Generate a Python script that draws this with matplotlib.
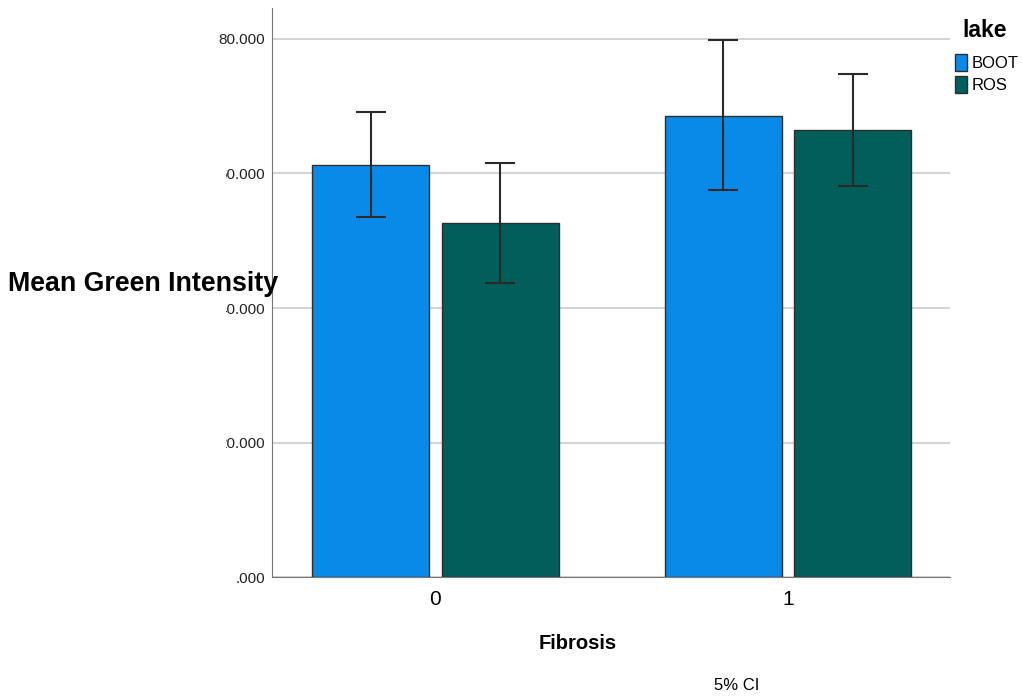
import numpy as np
import matplotlib.pyplot as plt
from matplotlib.patches import Rectangle, Patch

# средние и 95% ДИ по группам fibrosis
fibrosis = ['0', '1']
lakes = ['BOOT', 'ROS']
boot_mean = [61.3, 68.6]
boot_lo = [53.6, 57.6]
boot_hi = [69.2, 79.9]
ros_mean = [52.6, 66.5]
ros_lo = [43.7, 58.2]
ros_hi = [61.6, 74.8]
yticks = [0, 20, 40, 60, 80]
ytick_labels = ['.000', '20.000', '40.000', '60.000', '80.000']

colors = ['#0A8AE8', '#025E5B']
fam = ['Liberation Sans', 'DejaVu Sans']

fig = plt.figure(figsize=(10.22, 6.97), dpi=100)
ax = fig.add_axes([0.266, 0.172, 0.6636, 0.8165])

x = np.arange(len(fibrosis))
w = 0.332
off = 0.184
means = [boot_mean, ros_mean]
los = [boot_lo, ros_lo]
his = [boot_hi, ros_hi]
for i in range(2):
    m = np.array(means[i])
    err = [m - np.array(los[i]), np.array(his[i]) - m]
    ax.bar(x + (i * 2 - 1) * off, m, width=w, color=colors[i],
           edgecolor='#2e2e2e', linewidth=1, zorder=2)
    ax.errorbar(x + (i * 2 - 1) * off, m, yerr=err, fmt='none',
                ecolor='#2a2a2a', elinewidth=1.5, capsize=11, capthick=1.5, zorder=3)

ax.set_xlim(-0.464, 1.46)
ax.set_ylim(0, 84.6)
ax.set_yticks(yticks)
ax.set_yticklabels(ytick_labels, family=fam, fontsize=11, color='#222222')
ax.set_xticks(x)
ax.set_xticklabels(fibrosis, family=fam, fontsize=15)
ax.tick_params(axis='y', length=0, pad=5)
ax.tick_params(axis='x', length=0, pad=9)
ax.yaxis.grid(True, color='#d0d0d0', linewidth=1.3, zorder=0)
ax.set_axisbelow(True)
for s in ['top', 'right']:
    ax.spines[s].set_visible(False)
ax.spines['left'].set_color('#777777')
ax.spines['bottom'].set_color('#777777')

# белая плашка под подписью оси
fig.patches.append(Rectangle((0, 0.26), 0.221, 0.6, transform=fig.transFigure,
                             facecolor='white', edgecolor='none', zorder=5))
fig.text(0.008, 0.592, 'Mean Green Intensity', family=fam,
         fontsize=19.3, fontweight='bold', va='center', ha='left', zorder=6)

fig.text(0.565, 0.077, 'Fibrosis', family=fam, fontsize=14.5, fontweight='bold', ha='center', va='center')
fig.text(0.721, 0.016, '5% CI', family=fam, fontsize=12, ha='center', va='center')

# легенда
fig.text(0.963, 0.956, 'lake', family=fam, fontsize=16.5, fontweight='bold', ha='center', va='center')
handles = [Patch(facecolor=colors[i], edgecolor='#2e2e2e', label=lakes[i]) for i in range(2)]
fig.legend(handles=handles, loc='upper left', bbox_to_anchor=(0.934, 0.922),
           frameon=False, prop={'family': fam, 'size': 12},
           handlelength=0.75, handleheight=1.15, handletextpad=0.3, labelspacing=0.3,
           borderaxespad=0, borderpad=0)

fig.savefig('out.png', dpi=100)
